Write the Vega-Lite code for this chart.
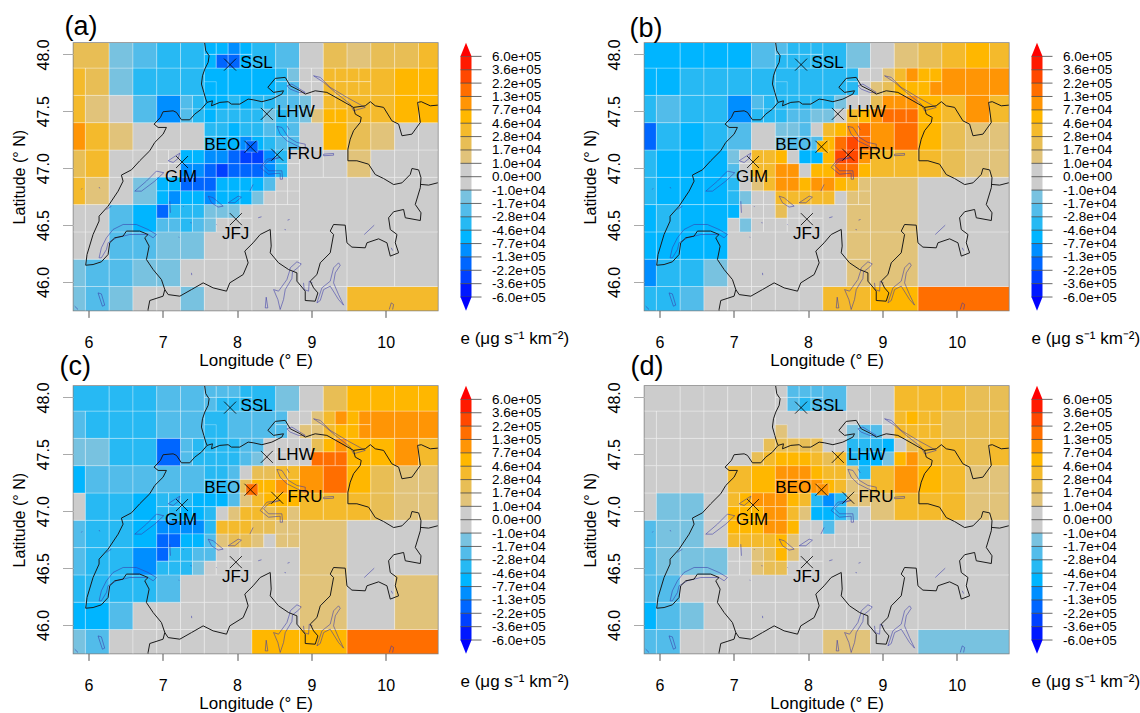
{
"$schema":"https://vega.github.io/schema/vega-lite/v6.json",
"padding":{"left":10.5,"top":12,"right":0,"bottom":0},
"background":"white",
"config":{"font":"Liberation Sans","view":{"stroke":null},"title":{"font":"Liberation Sans"}},
"datasets":{
"cells":[
{"lon":5.64,"lon2":5.96,"lat":45.72,"lat2":45.96,"a":-1,"b":-3,"c":-1,"d":-2},
{"lon":5.96,"lon2":6.28,"lat":45.72,"lat2":45.96,"a":-2,"b":-3,"c":-2,"d":-2},
{"lon":6.28,"lon2":6.6,"lat":45.72,"lat2":45.96,"a":-1,"b":-2,"c":0,"d":0},
{"lon":6.6,"lon2":6.92,"lat":45.72,"lat2":45.96,"a":0,"b":0,"c":0,"d":0},
{"lon":6.92,"lon2":7.24,"lat":45.72,"lat2":45.96,"a":0,"b":0,"c":0,"d":0},
{"lon":7.24,"lon2":7.56,"lat":45.72,"lat2":45.96,"a":-1,"b":0,"c":0,"d":0},
{"lon":7.56,"lon2":7.88,"lat":45.72,"lat2":45.96,"a":0,"b":0,"c":0,"d":0},
{"lon":7.88,"lon2":8.2,"lat":45.72,"lat2":45.96,"a":0,"b":0,"c":0,"d":0},
{"lon":8.2,"lon2":8.84,"lat":45.72,"lat2":45.96,"a":0,"b":3,"c":4,"d":1},
{"lon":8.84,"lon2":9.48,"lat":45.72,"lat2":45.96,"a":0,"b":4,"c":4,"d":0},
{"lon":9.48,"lon2":10.76,"lat":45.72,"lat2":45.96,"a":3,"b":6,"c":6,"d":-1},
{"lon":5.64,"lon2":5.96,"lat":45.96,"lat2":46.2,"a":-1,"b":-5,"c":-4,"d":-4},
{"lon":5.96,"lon2":6.28,"lat":45.96,"lat2":46.2,"a":-2,"b":-3,"c":-4,"d":-2},
{"lon":6.28,"lon2":6.6,"lat":45.96,"lat2":46.2,"a":-2,"b":-3,"c":-2,"d":-1},
{"lon":6.6,"lon2":6.92,"lat":45.96,"lat2":46.2,"a":-1,"b":-1,"c":0,"d":0},
{"lon":6.92,"lon2":7.24,"lat":45.96,"lat2":46.2,"a":-1,"b":0,"c":0,"d":0},
{"lon":7.24,"lon2":7.56,"lat":45.96,"lat2":46.2,"a":0,"b":0,"c":0,"d":0},
{"lon":7.56,"lon2":7.88,"lat":45.96,"lat2":46.2,"a":0,"b":0,"c":0,"d":0},
{"lon":7.88,"lon2":8.2,"lat":45.96,"lat2":46.2,"a":0,"b":0,"c":0,"d":0},
{"lon":8.2,"lon2":8.52,"lat":45.96,"lat2":46.2,"a":0,"b":0,"c":0,"d":0},
{"lon":8.52,"lon2":8.84,"lat":45.96,"lat2":46.2,"a":0,"b":1,"c":0,"d":0},
{"lon":5.64,"lon2":5.96,"lat":46.2,"lat2":46.44,"a":0,"b":-4,"c":-3,"d":-2},
{"lon":5.96,"lon2":6.28,"lat":46.2,"lat2":46.44,"a":0,"b":-4,"c":-3,"d":-2},
{"lon":6.28,"lon2":6.6,"lat":46.2,"lat2":46.44,"a":-2,"b":-4,"c":-3,"d":0},
{"lon":6.6,"lon2":6.92,"lat":46.2,"lat2":46.44,"a":-2,"b":-4,"c":-3,"d":0},
{"lon":6.92,"lon2":7.24,"lat":46.2,"lat2":46.44,"a":-1,"b":0,"c":-2,"d":0},
{"lon":7.24,"lon2":7.56,"lat":46.2,"lat2":46.44,"a":-1,"b":0,"c":0,"d":0},
{"lon":7.56,"lon2":7.88,"lat":46.2,"lat2":46.44,"a":0,"b":0,"c":0,"d":0},
{"lon":7.88,"lon2":8.2,"lat":46.2,"lat2":46.44,"a":0,"b":0,"c":0,"d":0},
{"lon":8.2,"lon2":8.52,"lat":46.2,"lat2":46.44,"a":0,"b":0,"c":0,"d":0},
{"lon":8.52,"lon2":8.84,"lat":46.2,"lat2":46.44,"a":0,"b":1,"c":0,"d":0},
{"lon":8.84,"lon2":9.48,"lat":45.96,"lat2":46.44,"a":0,"b":1,"c":1,"d":0},
{"lon":9.48,"lon2":10.12,"lat":45.96,"lat2":46.44,"a":0,"b":0,"c":0,"d":0},
{"lon":10.12,"lon2":10.76,"lat":45.96,"lat2":46.44,"a":0,"b":0,"c":1,"d":0},
{"lon":8.84,"lon2":9.48,"lat":46.44,"lat2":46.92,"a":0,"b":1,"c":1,"d":0},
{"lon":9.48,"lon2":10.12,"lat":46.44,"lat2":46.92,"a":0,"b":0,"c":0,"d":0},
{"lon":10.12,"lon2":10.76,"lat":46.44,"lat2":46.92,"a":0,"b":0,"c":0,"d":0},
{"lon":5.64,"lon2":5.96,"lat":46.44,"lat2":46.68,"a":0,"b":-4,"c":-2,"d":-2},
{"lon":5.96,"lon2":6.28,"lat":46.44,"lat2":46.68,"a":0,"b":-3,"c":-3,"d":-1},
{"lon":6.28,"lon2":6.6,"lat":46.44,"lat2":46.68,"a":-2,"b":-4,"c":-3,"d":-1},
{"lon":6.6,"lon2":6.92,"lat":46.44,"lat2":46.68,"a":-4,"b":-4,"c":-5,"d":-1},
{"lon":8.2,"lon2":8.52,"lat":46.44,"lat2":46.68,"a":0,"b":0,"c":0,"d":0},
{"lon":8.52,"lon2":8.84,"lat":46.44,"lat2":46.68,"a":0,"b":1,"c":0,"d":0},
{"lon":5.64,"lon2":5.96,"lat":46.68,"lat2":46.92,"a":3,"b":-3,"c":-2,"d":-2},
{"lon":5.96,"lon2":6.28,"lat":46.68,"lat2":46.92,"a":1,"b":-4,"c":-3,"d":-1},
{"lon":6.28,"lon2":6.6,"lat":46.68,"lat2":46.92,"a":0,"b":-4,"c":-3,"d":-1},
{"lon":6.6,"lon2":6.92,"lat":46.68,"lat2":46.92,"a":-1,"b":-4,"c":-4,"d":0},
{"lon":5.64,"lon2":5.96,"lat":46.92,"lat2":47.16,"a":2,"b":-3,"c":0,"d":0},
{"lon":5.96,"lon2":6.28,"lat":46.92,"lat2":47.16,"a":3,"b":-4,"c":-3,"d":-1},
{"lon":6.28,"lon2":6.6,"lat":46.92,"lat2":47.16,"a":0,"b":-4,"c":-3,"d":-1},
{"lon":6.6,"lon2":6.92,"lat":46.92,"lat2":47.16,"a":0,"b":-4,"c":-4,"d":0},
{"lon":8.84,"lon2":9.16,"lat":46.92,"lat2":47.16,"a":0,"b":3,"c":3,"d":1},
{"lon":9.16,"lon2":9.48,"lat":46.92,"lat2":47.16,"a":0,"b":3,"c":3,"d":3},
{"lon":9.48,"lon2":9.8,"lat":46.92,"lat2":47.16,"a":1,"b":3,"c":3,"d":3},
{"lon":9.8,"lon2":10.12,"lat":46.92,"lat2":47.16,"a":0,"b":2,"c":2,"d":3},
{"lon":10.12,"lon2":10.44,"lat":46.92,"lat2":47.16,"a":0,"b":1,"c":1,"d":1},
{"lon":10.44,"lon2":10.76,"lat":46.92,"lat2":47.16,"a":0,"b":1,"c":1,"d":1},
{"lon":5.64,"lon2":5.96,"lat":47.16,"lat2":47.4,"a":5,"b":-6,"c":-4,"d":0},
{"lon":5.96,"lon2":6.28,"lat":47.16,"lat2":47.4,"a":3,"b":-3,"c":-2,"d":0},
{"lon":6.28,"lon2":6.6,"lat":47.16,"lat2":47.4,"a":1,"b":-4,"c":-2,"d":0},
{"lon":6.6,"lon2":6.92,"lat":47.16,"lat2":47.4,"a":0,"b":-3,"c":-2,"d":0},
{"lon":6.92,"lon2":7.24,"lat":47.16,"lat2":47.4,"a":0,"b":-2,"c":-2,"d":3},
{"lon":7.24,"lon2":7.56,"lat":47.16,"lat2":47.4,"a":0,"b":0,"c":-2,"d":4},
{"lon":8.84,"lon2":9.16,"lat":47.16,"lat2":47.4,"a":0,"b":5,"c":5,"d":3},
{"lon":9.16,"lon2":9.48,"lat":47.16,"lat2":47.4,"a":4,"b":6,"c":6,"d":5},
{"lon":9.48,"lon2":9.8,"lat":47.16,"lat2":47.4,"a":2,"b":4,"c":4,"d":4},
{"lon":9.8,"lon2":10.12,"lat":47.16,"lat2":47.4,"a":1,"b":2,"c":2,"d":3},
{"lon":10.12,"lon2":10.44,"lat":47.16,"lat2":47.4,"a":0,"b":1,"c":1,"d":1},
{"lon":10.44,"lon2":10.76,"lat":47.16,"lat2":47.4,"a":0,"b":1,"c":1,"d":1},
{"lon":5.64,"lon2":5.96,"lat":47.4,"lat2":47.64,"a":3,"b":-3,"c":-1,"d":0},
{"lon":5.96,"lon2":6.28,"lat":47.4,"lat2":47.64,"a":1,"b":-2,"c":-1,"d":0},
{"lon":6.28,"lon2":6.6,"lat":47.4,"lat2":47.64,"a":0,"b":-3,"c":-3,"d":0},
{"lon":6.6,"lon2":6.92,"lat":47.4,"lat2":47.64,"a":-2,"b":-3,"c":-3,"d":0},
{"lon":6.92,"lon2":7.24,"lat":47.4,"lat2":47.64,"a":-5,"b":-5,"c":-6,"d":0},
{"lon":7.24,"lon2":7.4,"lat":47.52,"lat2":47.64,"a":-2,"b":-2,"c":-2,"d":0},
{"lon":7.4,"lon2":7.56,"lat":47.52,"lat2":47.64,"a":-3,"b":-3,"c":-3,"d":2},
{"lon":7.24,"lon2":7.4,"lat":47.4,"lat2":47.52,"a":-2,"b":-3,"c":-2,"d":2},
{"lon":7.4,"lon2":7.56,"lat":47.4,"lat2":47.52,"a":-3,"b":-3,"c":-3,"d":3},
{"lon":8.84,"lon2":9.0,"lat":47.52,"lat2":47.64,"a":-1,"b":2,"c":0,"d":-3},
{"lon":9.0,"lon2":9.16,"lat":47.52,"lat2":47.64,"a":0,"b":5,"c":2,"d":-4},
{"lon":8.84,"lon2":9.0,"lat":47.4,"lat2":47.52,"a":-1,"b":5,"c":0,"d":-4},
{"lon":9.0,"lon2":9.16,"lat":47.4,"lat2":47.52,"a":1,"b":6,"c":6,"d":-1},
{"lon":9.16,"lon2":9.32,"lat":47.52,"lat2":47.64,"a":3,"b":5,"c":4,"d":0},
{"lon":9.32,"lon2":9.48,"lat":47.52,"lat2":47.64,"a":3,"b":5,"c":5,"d":2},
{"lon":9.16,"lon2":9.32,"lat":47.4,"lat2":47.52,"a":4,"b":6,"c":6,"d":4},
{"lon":9.32,"lon2":9.48,"lat":47.4,"lat2":47.52,"a":4,"b":6,"c":6,"d":5},
{"lon":9.48,"lon2":9.8,"lat":47.4,"lat2":47.64,"a":3,"b":4,"c":4,"d":3},
{"lon":9.8,"lon2":10.12,"lat":47.4,"lat2":47.64,"a":3,"b":3,"c":4,"d":3},
{"lon":10.12,"lon2":10.44,"lat":47.4,"lat2":47.64,"a":4,"b":5,"c":5,"d":2},
{"lon":10.44,"lon2":10.76,"lat":47.4,"lat2":47.64,"a":4,"b":3,"c":3,"d":3},
{"lon":5.64,"lon2":5.96,"lat":47.64,"lat2":47.88,"a":3,"b":-4,"c":-2,"d":0},
{"lon":5.96,"lon2":6.28,"lat":47.64,"lat2":47.88,"a":2,"b":-4,"c":-3,"d":0},
{"lon":6.28,"lon2":6.6,"lat":47.64,"lat2":47.88,"a":-1,"b":-3,"c":-3,"d":0},
{"lon":6.6,"lon2":6.92,"lat":47.64,"lat2":47.88,"a":-3,"b":-3,"c":-3,"d":0},
{"lon":6.92,"lon2":7.24,"lat":47.64,"lat2":47.88,"a":-3,"b":-3,"c":-2,"d":0},
{"lon":7.24,"lon2":7.56,"lat":47.64,"lat2":47.88,"a":-3,"b":-3,"c":-2,"d":0},
{"lon":7.56,"lon2":7.88,"lat":47.64,"lat2":47.88,"a":-4,"b":-3,"c":-3,"d":0},
{"lon":7.56,"lon2":7.72,"lat":47.64,"lat2":47.76,"a":-4,"b":-3,"c":-3,"d":1},
{"lon":7.88,"lon2":8.2,"lat":47.64,"lat2":47.88,"a":-4,"b":-3,"c":-2,"d":0},
{"lon":8.2,"lon2":8.52,"lat":47.64,"lat2":47.88,"a":-4,"b":-3,"c":-2,"d":0},
{"lon":8.52,"lon2":8.68,"lat":47.76,"lat2":47.88,"a":-3,"b":-3,"c":-2,"d":0},
{"lon":8.68,"lon2":8.84,"lat":47.76,"lat2":47.88,"a":-1,"b":0,"c":0,"d":0},
{"lon":8.52,"lon2":8.68,"lat":47.64,"lat2":47.76,"a":-3,"b":-3,"c":-2,"d":-1},
{"lon":8.68,"lon2":8.84,"lat":47.64,"lat2":47.76,"a":-2,"b":0,"c":0,"d":-2},
{"lon":8.84,"lon2":9.0,"lat":47.76,"lat2":47.88,"a":0,"b":0,"c":0,"d":0},
{"lon":9.0,"lon2":9.16,"lat":47.76,"lat2":47.88,"a":0,"b":1,"c":1,"d":0},
{"lon":8.84,"lon2":9.0,"lat":47.64,"lat2":47.76,"a":0,"b":1,"c":1,"d":-2},
{"lon":9.0,"lon2":9.16,"lat":47.64,"lat2":47.76,"a":0,"b":2,"c":1,"d":0},
{"lon":9.16,"lon2":9.32,"lat":47.76,"lat2":47.88,"a":3,"b":3,"c":3,"d":3},
{"lon":9.32,"lon2":9.48,"lat":47.76,"lat2":47.88,"a":3,"b":5,"c":5,"d":4},
{"lon":9.16,"lon2":9.32,"lat":47.64,"lat2":47.76,"a":3,"b":4,"c":3,"d":3},
{"lon":9.32,"lon2":9.48,"lat":47.64,"lat2":47.76,"a":3,"b":4,"c":4,"d":3},
{"lon":9.48,"lon2":9.64,"lat":47.76,"lat2":47.88,"a":3,"b":4,"c":4,"d":3},
{"lon":9.64,"lon2":9.8,"lat":47.76,"lat2":47.88,"a":3,"b":4,"c":5,"d":3},
{"lon":9.48,"lon2":9.64,"lat":47.64,"lat2":47.76,"a":3,"b":4,"c":4,"d":3},
{"lon":9.64,"lon2":9.8,"lat":47.64,"lat2":47.76,"a":3,"b":5,"c":5,"d":3},
{"lon":9.8,"lon2":10.12,"lat":47.64,"lat2":47.88,"a":3,"b":5,"c":5,"d":2},
{"lon":10.12,"lon2":10.44,"lat":47.64,"lat2":47.88,"a":4,"b":5,"c":5,"d":2},
{"lon":10.44,"lon2":10.76,"lat":47.64,"lat2":47.88,"a":4,"b":5,"c":5,"d":2},
{"lon":5.64,"lon2":6.28,"lat":47.88,"lat2":48.12,"a":2,"b":-4,"c":-3,"d":0},
{"lon":6.28,"lon2":6.6,"lat":47.88,"lat2":48.12,"a":-1,"b":-4,"c":-3,"d":0},
{"lon":6.6,"lon2":6.92,"lat":47.88,"lat2":48.12,"a":-2,"b":-4,"c":-3,"d":0},
{"lon":6.92,"lon2":7.24,"lat":47.88,"lat2":48.12,"a":-3,"b":-4,"c":-2,"d":0},
{"lon":7.24,"lon2":7.56,"lat":47.88,"lat2":48.12,"a":-3,"b":-2,"c":-2,"d":0},
{"lon":7.56,"lon2":7.72,"lat":48.0,"lat2":48.12,"a":-4,"b":-2,"c":-2,"d":0},
{"lon":7.72,"lon2":7.88,"lat":48.0,"lat2":48.12,"a":-4,"b":-3,"c":-2,"d":-2},
{"lon":7.88,"lon2":8.04,"lat":48.0,"lat2":48.12,"a":-5,"b":-3,"c":-2,"d":-2},
{"lon":8.04,"lon2":8.2,"lat":48.0,"lat2":48.12,"a":-4,"b":-3,"c":-3,"d":-2},
{"lon":7.56,"lon2":7.72,"lat":47.88,"lat2":48.0,"a":-4,"b":-3,"c":-2,"d":0},
{"lon":7.72,"lon2":7.88,"lat":47.88,"lat2":48.0,"a":-6,"b":-3,"c":-3,"d":-2},
{"lon":7.88,"lon2":8.04,"lat":47.88,"lat2":48.0,"a":-6,"b":-3,"c":-3,"d":-3},
{"lon":8.04,"lon2":8.2,"lat":47.88,"lat2":48.0,"a":-4,"b":-3,"c":-3,"d":-2},
{"lon":8.2,"lon2":8.52,"lat":47.88,"lat2":48.12,"a":-3,"b":-3,"c":-3,"d":-2},
{"lon":8.52,"lon2":8.84,"lat":47.88,"lat2":48.12,"a":-2,"b":-1,"c":-1,"d":0},
{"lon":8.84,"lon2":9.16,"lat":47.88,"lat2":48.12,"a":0,"b":0,"c":0,"d":0},
{"lon":9.16,"lon2":9.48,"lat":47.88,"lat2":48.12,"a":2,"b":1,"c":2,"d":3},
{"lon":9.48,"lon2":9.8,"lat":47.88,"lat2":48.12,"a":1,"b":2,"c":4,"d":3},
{"lon":9.8,"lon2":10.12,"lat":47.88,"lat2":48.12,"a":2,"b":3,"c":4,"d":3},
{"lon":10.12,"lon2":10.44,"lat":47.88,"lat2":48.12,"a":2,"b":4,"c":4,"d":2},
{"lon":10.44,"lon2":10.76,"lat":47.88,"lat2":48.12,"a":3,"b":3,"c":4,"d":2},
{"lon":6.92,"lon2":7.08,"lat":47.04,"lat2":47.16,"a":0,"b":-1,"c":-3,"d":3},
{"lon":7.08,"lon2":7.24,"lat":47.04,"lat2":47.16,"a":0,"b":0,"c":-3,"d":4},
{"lon":7.24,"lon2":7.4,"lat":47.04,"lat2":47.16,"a":-4,"b":3,"c":-3,"d":5},
{"lon":7.4,"lon2":7.56,"lat":47.04,"lat2":47.16,"a":-4,"b":3,"c":-4,"d":5},
{"lon":6.92,"lon2":7.08,"lat":46.92,"lat2":47.04,"a":0,"b":-2,"c":-3,"d":4},
{"lon":7.08,"lon2":7.24,"lat":46.92,"lat2":47.04,"a":0,"b":0,"c":-3,"d":4},
{"lon":7.24,"lon2":7.4,"lat":46.92,"lat2":47.04,"a":-5,"b":3,"c":-4,"d":4},
{"lon":7.4,"lon2":7.56,"lat":46.92,"lat2":47.04,"a":-5,"b":3,"c":-4,"d":5},
{"lon":6.92,"lon2":7.08,"lat":46.8,"lat2":46.92,"a":-4,"b":-3,"c":-5,"d":4},
{"lon":7.08,"lon2":7.24,"lat":46.8,"lat2":46.92,"a":-4,"b":0,"c":-5,"d":4},
{"lon":7.24,"lon2":7.4,"lat":46.8,"lat2":46.92,"a":-6,"b":1,"c":-5,"d":4},
{"lon":7.4,"lon2":7.56,"lat":46.8,"lat2":46.92,"a":-6,"b":3,"c":-5,"d":5},
{"lon":6.92,"lon2":7.08,"lat":46.68,"lat2":46.8,"a":-4,"b":-3,"c":-6,"d":3},
{"lon":7.08,"lon2":7.24,"lat":46.68,"lat2":46.8,"a":-5,"b":-1,"c":-6,"d":3},
{"lon":7.24,"lon2":7.4,"lat":46.68,"lat2":46.8,"a":-4,"b":0,"c":-4,"d":3},
{"lon":7.4,"lon2":7.56,"lat":46.68,"lat2":46.8,"a":-4,"b":0,"c":-4,"d":3},
{"lon":6.92,"lon2":7.08,"lat":46.56,"lat2":46.68,"a":-6,"b":-4,"c":-6,"d":0},
{"lon":7.08,"lon2":7.24,"lat":46.56,"lat2":46.68,"a":-3,"b":0,"c":-3,"d":0},
{"lon":7.24,"lon2":7.4,"lat":46.56,"lat2":46.68,"a":-3,"b":0,"c":-3,"d":1},
{"lon":7.4,"lon2":7.56,"lat":46.56,"lat2":46.68,"a":-3,"b":0,"c":-2,"d":2},
{"lon":6.92,"lon2":7.08,"lat":46.44,"lat2":46.56,"a":-2,"b":0,"c":-3,"d":0},
{"lon":7.08,"lon2":7.24,"lat":46.44,"lat2":46.56,"a":-2,"b":-1,"c":-3,"d":0},
{"lon":7.24,"lon2":7.4,"lat":46.44,"lat2":46.56,"a":-3,"b":0,"c":-3,"d":1},
{"lon":7.4,"lon2":7.56,"lat":46.44,"lat2":46.56,"a":-2,"b":0,"c":-1,"d":2},
{"lon":7.56,"lon2":7.72,"lat":46.56,"lat2":46.68,"a":-1,"b":2,"c":-2,"d":4},
{"lon":7.72,"lon2":7.88,"lat":46.56,"lat2":46.68,"a":-1,"b":0,"c":0,"d":1},
{"lon":7.88,"lon2":8.04,"lat":46.56,"lat2":46.68,"a":-1,"b":0,"c":0,"d":0},
{"lon":8.04,"lon2":8.2,"lat":46.56,"lat2":46.68,"a":0,"b":0,"c":0,"d":0},
{"lon":7.56,"lon2":7.72,"lat":46.44,"lat2":46.56,"a":-1,"b":0,"c":0,"d":2},
{"lon":7.72,"lon2":7.88,"lat":46.44,"lat2":46.56,"a":0,"b":0,"c":0,"d":0},
{"lon":7.88,"lon2":8.04,"lat":46.44,"lat2":46.56,"a":0,"b":0,"c":0,"d":0},
{"lon":8.04,"lon2":8.2,"lat":46.44,"lat2":46.56,"a":0,"b":0,"c":0,"d":0},
{"lon":7.56,"lon2":7.72,"lat":46.68,"lat2":46.8,"a":-5,"b":3,"c":-2,"d":4},
{"lon":7.72,"lon2":7.88,"lat":46.68,"lat2":46.8,"a":-4,"b":3,"c":1,"d":1},
{"lon":7.88,"lon2":8.04,"lat":46.68,"lat2":46.8,"a":-4,"b":3,"c":2,"d":0},
{"lon":8.04,"lon2":8.2,"lat":46.68,"lat2":46.8,"a":-4,"b":3,"c":2,"d":0},
{"lon":8.2,"lon2":8.36,"lat":46.68,"lat2":46.8,"a":-1,"b":3,"c":1,"d":0},
{"lon":8.36,"lon2":8.52,"lat":46.68,"lat2":46.8,"a":0,"b":0,"c":0,"d":0},
{"lon":8.52,"lon2":8.68,"lat":46.68,"lat2":46.8,"a":0,"b":1,"c":1,"d":0},
{"lon":8.68,"lon2":8.84,"lat":46.68,"lat2":46.8,"a":0,"b":1,"c":1,"d":0},
{"lon":7.56,"lon2":7.72,"lat":46.8,"lat2":46.92,"a":-6,"b":5,"c":-3,"d":5},
{"lon":7.72,"lon2":7.88,"lat":46.8,"lat2":46.92,"a":-4,"b":5,"c":3,"d":4},
{"lon":7.88,"lon2":8.04,"lat":46.8,"lat2":46.92,"a":-4,"b":4,"c":3,"d":0},
{"lon":8.04,"lon2":8.2,"lat":46.8,"lat2":46.92,"a":-4,"b":5,"c":3,"d":0},
{"lon":8.2,"lon2":8.36,"lat":46.8,"lat2":46.92,"a":-4,"b":5,"c":2,"d":-2},
{"lon":8.36,"lon2":8.52,"lat":46.8,"lat2":46.92,"a":-2,"b":4,"c":2,"d":0},
{"lon":8.52,"lon2":8.68,"lat":46.8,"lat2":46.92,"a":0,"b":3,"c":1,"d":0},
{"lon":8.68,"lon2":8.84,"lat":46.8,"lat2":46.92,"a":0,"b":1,"c":1,"d":0},
{"lon":7.56,"lon2":7.72,"lat":46.92,"lat2":47.04,"a":-6,"b":5,"c":-3,"d":5},
{"lon":7.72,"lon2":7.88,"lat":46.92,"lat2":47.04,"a":-7,"b":5,"c":0,"d":3},
{"lon":7.88,"lon2":8.04,"lat":46.92,"lat2":47.04,"a":-6,"b":0,"c":1,"d":1},
{"lon":8.04,"lon2":8.2,"lat":46.92,"lat2":47.04,"a":-6,"b":4,"c":3,"d":-4},
{"lon":8.2,"lon2":8.36,"lat":46.92,"lat2":47.04,"a":-6,"b":4,"c":3,"d":-4},
{"lon":8.36,"lon2":8.52,"lat":46.92,"lat2":47.04,"a":-5,"b":6,"c":2,"d":-3},
{"lon":8.52,"lon2":8.68,"lat":46.92,"lat2":47.04,"a":-3,"b":6,"c":3,"d":-1},
{"lon":8.68,"lon2":8.84,"lat":46.92,"lat2":47.04,"a":0,"b":4,"c":1,"d":0},
{"lon":7.56,"lon2":7.72,"lat":47.04,"lat2":47.16,"a":-5,"b":4,"c":-4,"d":5},
{"lon":7.72,"lon2":7.88,"lat":47.04,"lat2":47.16,"a":-5,"b":0,"c":-4,"d":4},
{"lon":7.88,"lon2":8.04,"lat":47.04,"lat2":47.16,"a":-6,"b":-4,"c":-2,"d":3},
{"lon":8.04,"lon2":8.2,"lat":47.04,"lat2":47.16,"a":-7,"b":-4,"c":1,"d":-3},
{"lon":8.2,"lon2":8.36,"lat":47.04,"lat2":47.16,"a":-7,"b":4,"c":3,"d":-5},
{"lon":8.36,"lon2":8.52,"lat":47.04,"lat2":47.16,"a":-5,"b":7,"c":4,"d":-3},
{"lon":8.52,"lon2":8.68,"lat":47.04,"lat2":47.16,"a":-3,"b":7,"c":4,"d":1},
{"lon":8.68,"lon2":8.84,"lat":47.04,"lat2":47.16,"a":0,"b":5,"c":4,"d":1},
{"lon":7.56,"lon2":7.72,"lat":47.16,"lat2":47.28,"a":-3,"b":-1,"c":-3,"d":5},
{"lon":7.72,"lon2":7.88,"lat":47.16,"lat2":47.28,"a":-4,"b":-2,"c":-3,"d":5},
{"lon":7.88,"lon2":8.04,"lat":47.16,"lat2":47.28,"a":-4,"b":-2,"c":-2,"d":5},
{"lon":8.04,"lon2":8.2,"lat":47.16,"lat2":47.28,"a":-5,"b":-2,"c":2,"d":5},
{"lon":8.2,"lon2":8.36,"lat":47.16,"lat2":47.28,"a":-4,"b":4,"c":4,"d":4},
{"lon":8.36,"lon2":8.52,"lat":47.16,"lat2":47.28,"a":-3,"b":6,"c":4,"d":3},
{"lon":8.52,"lon2":8.68,"lat":47.16,"lat2":47.28,"a":-2,"b":7,"c":5,"d":1},
{"lon":8.68,"lon2":8.84,"lat":47.16,"lat2":47.28,"a":-2,"b":6,"c":4,"d":1},
{"lon":7.56,"lon2":7.72,"lat":47.28,"lat2":47.4,"a":-3,"b":-1,"c":-3,"d":5},
{"lon":7.72,"lon2":7.88,"lat":47.28,"lat2":47.4,"a":-3,"b":-1,"c":-3,"d":5},
{"lon":7.88,"lon2":8.04,"lat":47.28,"lat2":47.4,"a":-4,"b":-2,"c":-2,"d":5},
{"lon":8.04,"lon2":8.2,"lat":47.28,"lat2":47.4,"a":-3,"b":0,"c":0,"d":4},
{"lon":8.2,"lon2":8.36,"lat":47.28,"lat2":47.4,"a":-3,"b":3,"c":2,"d":3},
{"lon":8.36,"lon2":8.52,"lat":47.28,"lat2":47.4,"a":-2,"b":4,"c":2,"d":3},
{"lon":8.52,"lon2":8.68,"lat":47.28,"lat2":47.4,"a":-3,"b":5,"c":3,"d":1},
{"lon":8.68,"lon2":8.84,"lat":47.28,"lat2":47.4,"a":-2,"b":6,"c":3,"d":-3},
{"lon":7.56,"lon2":7.72,"lat":47.4,"lat2":47.52,"a":-4,"b":-3,"c":-3,"d":4},
{"lon":7.72,"lon2":7.88,"lat":47.4,"lat2":47.52,"a":-3,"b":-2,"c":-3,"d":4},
{"lon":7.88,"lon2":8.04,"lat":47.4,"lat2":47.52,"a":-3,"b":-2,"c":-3,"d":4},
{"lon":8.04,"lon2":8.2,"lat":47.4,"lat2":47.52,"a":-3,"b":-1,"c":-2,"d":3},
{"lon":8.2,"lon2":8.36,"lat":47.4,"lat2":47.52,"a":-3,"b":-1,"c":-1,"d":2},
{"lon":8.36,"lon2":8.52,"lat":47.4,"lat2":47.52,"a":-1,"b":0,"c":0,"d":3},
{"lon":8.52,"lon2":8.68,"lat":47.4,"lat2":47.52,"a":-3,"b":3,"c":0,"d":-3},
{"lon":8.68,"lon2":8.84,"lat":47.4,"lat2":47.52,"a":-2,"b":4,"c":0,"d":-4},
{"lon":7.56,"lon2":7.72,"lat":47.52,"lat2":47.64,"a":-4,"b":-3,"c":-3,"d":2},
{"lon":7.72,"lon2":7.88,"lat":47.52,"lat2":47.64,"a":-4,"b":-3,"c":-3,"d":2},
{"lon":7.88,"lon2":8.04,"lat":47.52,"lat2":47.64,"a":-3,"b":-3,"c":-3,"d":2},
{"lon":8.04,"lon2":8.2,"lat":47.52,"lat2":47.64,"a":-4,"b":-3,"c":-2,"d":2},
{"lon":8.2,"lon2":8.36,"lat":47.52,"lat2":47.64,"a":-3,"b":-3,"c":-2,"d":0},
{"lon":8.36,"lon2":8.52,"lat":47.52,"lat2":47.64,"a":-3,"b":-1,"c":0,"d":0},
{"lon":8.52,"lon2":8.68,"lat":47.52,"lat2":47.64,"a":-2,"b":0,"c":0,"d":-3},
{"lon":8.68,"lon2":8.84,"lat":47.52,"lat2":47.64,"a":-2,"b":0,"c":0,"d":-3},
{"lon":8.12,"lon2":8.28,"lat":47.14,"lat2":47.24,"a":-6,"b":4,"c":6,"d":5}
],
"border":[
{"id":"ch","lon":7.597,"lat":47.578},{"id":"ch","lon":7.521,"lat":47.519},{"id":"ch","lon":7.431,"lat":47.475},{"id":"ch","lon":7.364,"lat":47.425},{"id":"ch","lon":7.252,"lat":47.425},{"id":"ch","lon":7.185,"lat":47.49},{"id":"ch","lon":7.14,"lat":47.504},{"id":"ch","lon":7.005,"lat":47.496},{"id":"ch","lon":6.969,"lat":47.446},{"id":"ch","lon":6.884,"lat":47.387},{"id":"ch","lon":6.938,"lat":47.358},{"id":"ch","lon":7.05,"lat":47.358},{"id":"ch","lon":7.005,"lat":47.299},{"id":"ch","lon":6.893,"lat":47.226},{"id":"ch","lon":6.826,"lat":47.153},{"id":"ch","lon":6.691,"lat":47.065},{"id":"ch","lon":6.579,"lat":46.985},{"id":"ch","lon":6.444,"lat":46.939},{"id":"ch","lon":6.467,"lat":46.886},{"id":"ch","lon":6.4,"lat":46.798},{"id":"ch","lon":6.265,"lat":46.666},{"id":"ch","lon":6.144,"lat":46.578},{"id":"ch","lon":6.144,"lat":46.535},{"id":"ch","lon":6.063,"lat":46.417},{"id":"ch","lon":5.982,"lat":46.241},{"id":"ch","lon":5.964,"lat":46.147},{"id":"ch","lon":6.063,"lat":46.153},{"id":"ch","lon":6.175,"lat":46.177},{"id":"ch","lon":6.265,"lat":46.241},{"id":"ch","lon":6.287,"lat":46.344},{"id":"ch","lon":6.355,"lat":46.388},{"id":"ch","lon":6.467,"lat":46.403},{"id":"ch","lon":6.512,"lat":46.447},{"id":"ch","lon":6.691,"lat":46.447},{"id":"ch","lon":6.803,"lat":46.417},{"id":"ch","lon":6.758,"lat":46.388},{"id":"ch","lon":6.817,"lat":46.315},{"id":"ch","lon":6.781,"lat":46.197},{"id":"ch","lon":6.871,"lat":46.109},{"id":"ch","lon":6.983,"lat":46.021},{"id":"ch","lon":7.028,"lat":45.933},{"id":"ch","lon":7.073,"lat":45.889},{"id":"ch","lon":7.23,"lat":45.875},{"id":"ch","lon":7.387,"lat":45.933},{"id":"ch","lon":7.544,"lat":45.992},{"id":"ch","lon":7.678,"lat":45.948},{"id":"ch","lon":7.858,"lat":45.919},{"id":"ch","lon":7.902,"lat":45.992},{"id":"ch","lon":8.082,"lat":46.065},{"id":"ch","lon":8.149,"lat":46.168},{"id":"ch","lon":8.104,"lat":46.271},{"id":"ch","lon":8.216,"lat":46.344},{"id":"ch","lon":8.311,"lat":46.417},{"id":"ch","lon":8.446,"lat":46.461},{"id":"ch","lon":8.459,"lat":46.315},{"id":"ch","lon":8.446,"lat":46.256},{"id":"ch","lon":8.558,"lat":46.168},{"id":"ch","lon":8.693,"lat":46.109},{"id":"ch","lon":8.805,"lat":46.08},{"id":"ch","lon":8.805,"lat":46.007},{"id":"ch","lon":8.917,"lat":45.919},{"id":"ch","lon":8.917,"lat":45.837},{"id":"ch","lon":9.051,"lat":45.831},{"id":"ch","lon":9.087,"lat":45.904},{"id":"ch","lon":9.029,"lat":45.948},{"id":"ch","lon":8.984,"lat":46.007},{"id":"ch","lon":9.074,"lat":46.065},{"id":"ch","lon":9.119,"lat":46.168},{"id":"ch","lon":9.253,"lat":46.256},{"id":"ch","lon":9.298,"lat":46.417},{"id":"ch","lon":9.253,"lat":46.447},{"id":"ch","lon":9.298,"lat":46.505},{"id":"ch","lon":9.455,"lat":46.499},{"id":"ch","lon":9.478,"lat":46.344},{"id":"ch","lon":9.545,"lat":46.306},{"id":"ch","lon":9.724,"lat":46.3},{"id":"ch","lon":9.747,"lat":46.344},{"id":"ch","lon":9.904,"lat":46.379},{"id":"ch","lon":10.016,"lat":46.344},{"id":"ch","lon":10.061,"lat":46.227},{"id":"ch","lon":10.173,"lat":46.256},{"id":"ch","lon":10.128,"lat":46.344},{"id":"ch","lon":10.151,"lat":46.417},{"id":"ch","lon":10.061,"lat":46.461},{"id":"ch","lon":10.038,"lat":46.564},{"id":"ch","lon":10.106,"lat":46.617},{"id":"ch","lon":10.24,"lat":46.637},{"id":"ch","lon":10.263,"lat":46.564},{"id":"ch","lon":10.465,"lat":46.54},{"id":"ch","lon":10.474,"lat":46.608},{"id":"ch","lon":10.397,"lat":46.681},{"id":"ch","lon":10.465,"lat":46.828},{"id":"ch","lon":10.474,"lat":46.916},{"id":"ch","lon":10.442,"lat":46.985},{"id":"ch","lon":10.352,"lat":46.997},{"id":"ch","lon":10.33,"lat":46.945},{"id":"ch","lon":10.218,"lat":46.871},{"id":"ch","lon":10.106,"lat":46.856},{"id":"ch","lon":9.971,"lat":46.909},{"id":"ch","lon":9.859,"lat":46.944},{"id":"ch","lon":9.769,"lat":47.035},{"id":"ch","lon":9.612,"lat":47.065},{"id":"ch","lon":9.491,"lat":47.065},{"id":"ch","lon":9.491,"lat":47.167},{"id":"ch","lon":9.522,"lat":47.255},{"id":"ch","lon":9.567,"lat":47.329},{"id":"ch","lon":9.657,"lat":47.402},{"id":"ch","lon":9.67,"lat":47.446},{"id":"ch","lon":9.59,"lat":47.475},{"id":"ch","lon":9.567,"lat":47.534},{"id":"ch","lon":9.41,"lat":47.592},{"id":"ch","lon":9.208,"lat":47.666},{"id":"ch","lon":9.051,"lat":47.68},{"id":"ch","lon":8.917,"lat":47.651},{"id":"ch","lon":8.85,"lat":47.68},{"id":"ch","lon":8.715,"lat":47.724},{"id":"ch","lon":8.648,"lat":47.798},{"id":"ch","lon":8.513,"lat":47.789},{"id":"ch","lon":8.414,"lat":47.71},{"id":"ch","lon":8.491,"lat":47.666},{"id":"ch","lon":8.625,"lat":47.68},{"id":"ch","lon":8.603,"lat":47.651},{"id":"ch","lon":8.468,"lat":47.607},{"id":"ch","lon":8.334,"lat":47.584},{"id":"ch","lon":8.217,"lat":47.601},{"id":"ch","lon":8.149,"lat":47.607},{"id":"ch","lon":8.037,"lat":47.563},{"id":"ch","lon":7.925,"lat":47.563},{"id":"ch","lon":7.88,"lat":47.584},{"id":"ch","lon":7.768,"lat":47.578},{"id":"ch","lon":7.656,"lat":47.548},{"id":"ch","lon":7.669,"lat":47.592},{"id":"ch","lon":7.597,"lat":47.578},
{"id":"rhine","lon":7.56,"lat":48.12},{"id":"rhine","lon":7.566,"lat":48.091},{"id":"rhine","lon":7.579,"lat":48.032},{"id":"rhine","lon":7.624,"lat":47.988},{"id":"rhine","lon":7.611,"lat":47.93},{"id":"rhine","lon":7.566,"lat":47.871},{"id":"rhine","lon":7.535,"lat":47.812},{"id":"rhine","lon":7.521,"lat":47.739},{"id":"rhine","lon":7.553,"lat":47.666},{"id":"rhine","lon":7.579,"lat":47.607},{"id":"rhine","lon":7.597,"lat":47.578},
{"id":"fr","lon":7.028,"lat":45.933},{"id":"fr","lon":7.005,"lat":45.875},{"id":"fr","lon":6.826,"lat":45.837},{"id":"fr","lon":6.803,"lat":45.758},{"id":"fr","lon":6.803,"lat":45.71},
{"id":"at","lon":9.567,"lat":47.534},{"id":"at","lon":9.724,"lat":47.548},{"id":"at","lon":9.792,"lat":47.584},{"id":"at","lon":9.859,"lat":47.548},{"id":"at","lon":9.971,"lat":47.534},{"id":"at","lon":10.083,"lat":47.416},{"id":"at","lon":10.173,"lat":47.387},{"id":"at","lon":10.218,"lat":47.285},{"id":"at","lon":10.352,"lat":47.299},{"id":"at","lon":10.465,"lat":47.402},{"id":"at","lon":10.429,"lat":47.578},{"id":"at","lon":10.478,"lat":47.584},{"id":"at","lon":10.599,"lat":47.548},{"id":"at","lon":10.702,"lat":47.554},{"id":"at","lon":10.756,"lat":47.554},
{"id":"it","lon":10.474,"lat":46.857},{"id":"it","lon":10.577,"lat":46.851},{"id":"it","lon":10.702,"lat":46.872},{"id":"it","lon":10.756,"lat":46.872}
],
"lakes":[
{"id":"gen","lon":6.144,"lat":46.212},{"id":"gen","lon":6.175,"lat":46.3},{"id":"gen","lon":6.243,"lat":46.388},{"id":"gen","lon":6.332,"lat":46.461},{"id":"gen","lon":6.467,"lat":46.505},{"id":"gen","lon":6.646,"lat":46.505},{"id":"gen","lon":6.803,"lat":46.461},{"id":"gen","lon":6.915,"lat":46.417},{"id":"gen","lon":6.871,"lat":46.388},{"id":"gen","lon":6.803,"lat":46.417},{"id":"gen","lon":6.557,"lat":46.417},{"id":"gen","lon":6.377,"lat":46.388},{"id":"gen","lon":6.265,"lat":46.344},{"id":"gen","lon":6.243,"lat":46.285},{"id":"gen","lon":6.175,"lat":46.212},{"id":"gen","lon":6.144,"lat":46.212},
{"id":"neu","lon":6.624,"lat":46.798},{"id":"neu","lon":6.714,"lat":46.798},{"id":"neu","lon":6.893,"lat":46.886},{"id":"neu","lon":7.014,"lat":46.96},{"id":"neu","lon":6.915,"lat":46.974},{"id":"neu","lon":6.781,"lat":46.886},{"id":"neu","lon":6.624,"lat":46.798},
{"id":"bie","lon":7.073,"lat":47.065},{"id":"bie","lon":7.14,"lat":47.094},{"id":"bie","lon":7.23,"lat":47.132},{"id":"bie","lon":7.207,"lat":47.085},{"id":"bie","lon":7.14,"lat":47.05},{"id":"bie","lon":7.073,"lat":47.065},
{"id":"thu","lon":7.611,"lat":46.754},{"id":"thu","lon":7.678,"lat":46.74},{"id":"thu","lon":7.813,"lat":46.666},{"id":"thu","lon":7.745,"lat":46.658},{"id":"thu","lon":7.656,"lat":46.696},{"id":"thu","lon":7.611,"lat":46.754},
{"id":"bri","lon":7.88,"lat":46.696},{"id":"bri","lon":8.015,"lat":46.754},{"id":"bri","lon":8.059,"lat":46.745},{"id":"bri","lon":7.97,"lat":46.696},{"id":"bri","lon":7.88,"lat":46.696},
{"id":"s1","lon":7.095,"lat":46.71},{"id":"s1","lon":7.104,"lat":46.608},
{"id":"s2","lon":6.243,"lat":46.637},{"id":"s2","lon":6.31,"lat":46.666},
{"id":"s3","lon":6.144,"lat":46.834},{"id":"s3","lon":6.153,"lat":46.822},
{"id":"s4","lon":5.906,"lat":46.813},{"id":"s4","lon":5.915,"lat":46.822},
{"id":"s5","lon":8.172,"lat":46.798},{"id":"s5","lon":8.216,"lat":46.857},
{"id":"s6","lon":8.284,"lat":46.564},{"id":"s6","lon":8.329,"lat":46.573},
{"id":"s7","lon":8.679,"lat":46.543},{"id":"s7","lon":8.706,"lat":46.549},
{"id":"s8","lon":8.639,"lat":46.461},{"id":"s8","lon":8.657,"lat":46.458},
{"id":"s9","lon":9.711,"lat":46.417},{"id":"s9","lon":9.845,"lat":46.499},
{"id":"s10","lon":10.074,"lat":46.3},{"id":"s10","lon":10.092,"lat":46.276},
{"id":"s11","lon":7.387,"lat":46.08},{"id":"s11","lon":7.39,"lat":46.06},
{"id":"s12","lon":7.216,"lat":46.397},{"id":"s12","lon":7.22,"lat":46.39},
{"id":"s13","lon":7.274,"lat":46.666},{"id":"s13","lon":7.28,"lat":46.66},
{"id":"s14","lon":7.378,"lat":46.526},{"id":"s14","lon":7.382,"lat":46.515},
{"id":"s15","lon":7.723,"lat":46.505},{"id":"s15","lon":7.73,"lat":46.5},
{"id":"ann","lon":6.13,"lat":45.904},{"id":"ann","lon":6.175,"lat":45.895},{"id":"ann","lon":6.22,"lat":45.796},{"id":"ann","lon":6.189,"lat":45.787},{"id":"ann","lon":6.13,"lat":45.904},
{"id":"bou","lon":5.816,"lat":45.787},{"id":"bou","lon":5.861,"lat":45.758},
{"id":"mag","lon":8.715,"lat":46.124},{"id":"mag","lon":8.805,"lat":46.177},{"id":"mag","lon":8.863,"lat":46.159},{"id":"mag","lon":8.827,"lat":46.13},{"id":"mag","lon":8.746,"lat":46.089},{"id":"mag","lon":8.737,"lat":46.03},{"id":"mag","lon":8.648,"lat":45.933},{"id":"mag","lon":8.625,"lat":45.845},{"id":"mag","lon":8.58,"lat":45.758},{"id":"mag","lon":8.549,"lat":45.845},{"id":"mag","lon":8.491,"lat":45.933},{"id":"mag","lon":8.558,"lat":45.919},{"id":"mag","lon":8.67,"lat":46.021},{"id":"mag","lon":8.706,"lat":46.095},{"id":"mag","lon":8.715,"lat":46.124},
{"id":"com","lon":9.074,"lat":45.816},{"id":"com","lon":9.141,"lat":45.948},{"id":"com","lon":9.253,"lat":46.007},{"id":"com","lon":9.298,"lat":46.124},{"id":"com","lon":9.365,"lat":46.168},{"id":"com","lon":9.388,"lat":46.147},{"id":"com","lon":9.321,"lat":46.08},{"id":"com","lon":9.298,"lat":45.992},{"id":"com","lon":9.365,"lat":45.889},{"id":"com","lon":9.433,"lat":45.796},{"id":"com","lon":9.365,"lat":45.845},{"id":"com","lon":9.253,"lat":45.963},{"id":"com","lon":9.164,"lat":45.933},{"id":"com","lon":9.119,"lat":45.837},{"id":"com","lon":9.074,"lat":45.816},
{"id":"lug","lon":8.894,"lat":45.992},{"id":"lug","lon":8.903,"lat":45.933},{"id":"lug","lon":8.962,"lat":45.919},{"id":"lug","lon":8.971,"lat":46.007},{"id":"lug","lon":9.015,"lat":45.992},
{"id":"ort","lon":8.392,"lat":45.866},{"id":"ort","lon":8.414,"lat":45.772},{"id":"ort","lon":8.379,"lat":45.772},{"id":"ort","lon":8.392,"lat":45.866},
{"id":"ise","lon":10.047,"lat":45.758},{"id":"ise","lon":10.074,"lat":45.816},{"id":"ise","lon":10.106,"lat":45.802},{"id":"ise","lon":10.092,"lat":45.758},
{"id":"con","lon":9.029,"lat":47.812},{"id":"con","lon":9.119,"lat":47.798},{"id":"con","lon":9.253,"lat":47.71},{"id":"con","lon":9.478,"lat":47.622},{"id":"con","lon":9.724,"lat":47.534},{"id":"con","lon":9.567,"lat":47.504},{"id":"con","lon":9.522,"lat":47.563},{"id":"con","lon":9.321,"lat":47.666},{"id":"con","lon":9.164,"lat":47.754},{"id":"con","lon":9.029,"lat":47.812},
{"id":"unt","lon":8.67,"lat":47.724},{"id":"unt","lon":8.737,"lat":47.739},{"id":"unt","lon":8.917,"lat":47.666},{"id":"unt","lon":8.827,"lat":47.666},{"id":"unt","lon":8.715,"lat":47.695},{"id":"unt","lon":8.67,"lat":47.724},
{"id":"zur","lon":8.536,"lat":47.367},{"id":"zur","lon":8.603,"lat":47.358},{"id":"zur","lon":8.692,"lat":47.27},{"id":"zur","lon":8.805,"lat":47.226},{"id":"zur","lon":8.917,"lat":47.211},{"id":"zur","lon":8.917,"lat":47.167},{"id":"zur","lon":8.805,"lat":47.197},{"id":"zur","lon":8.67,"lat":47.241},{"id":"zur","lon":8.58,"lat":47.299},{"id":"zur","lon":8.536,"lat":47.367},
{"id":"zug","lon":8.67,"lat":47.373},{"id":"zug","lon":8.702,"lat":47.337},
{"id":"wal","lon":9.164,"lat":47.123},{"id":"wal","lon":9.298,"lat":47.129},{"id":"wal","lon":9.298,"lat":47.114},{"id":"wal","lon":9.164,"lat":47.109},{"id":"wal","lon":9.164,"lat":47.123},
{"id":"vie","lon":8.58,"lat":47.094},{"id":"vie","lon":8.423,"lat":47.065},{"id":"vie","lon":8.356,"lat":47.021},{"id":"vie","lon":8.423,"lat":46.977},{"id":"vie","lon":8.513,"lat":46.977},{"id":"vie","lon":8.603,"lat":46.977},{"id":"vie","lon":8.612,"lat":46.903},{"id":"vie","lon":8.58,"lat":46.903},{"id":"vie","lon":8.58,"lat":46.956},{"id":"vie","lon":8.423,"lat":46.947},{"id":"vie","lon":8.311,"lat":47.006},{"id":"vie","lon":8.401,"lat":47.079},{"id":"vie","lon":8.58,"lat":47.094}
],
"stations":[
{"name":"SSL","lon":7.906,"lat":47.91},
{"name":"LHW","lon":8.4,"lat":47.477},
{"name":"BEO","lon":8.18,"lat":47.188},
{"name":"FRU","lon":8.54,"lat":47.118},
{"name":"GIM","lon":7.26,"lat":47.054},
{"name":"JFJ","lon":7.984,"lat":46.552}
],
"labels":[
{"name":"SSL","lon":8.263,"lat":47.924},
{"name":"LHW","lon":8.79,"lat":47.492},
{"name":"BEO","lon":7.8,"lat":47.2},
{"name":"FRU","lon":8.913,"lat":47.127},
{"name":"GIM","lon":7.246,"lat":46.923},
{"name":"JFJ","lon":7.98,"lat":46.418}
],
"ticks":[{"t":"6.0e+05"},{"t":"3.6e+05"},{"t":"2.2e+05"},{"t":"1.3e+05"},{"t":"7.7e+04"},{"t":"4.6e+04"},{"t":"2.8e+04"},{"t":"1.7e+04"},{"t":"1.0e+04"},{"t":"0.0e+00"},{"t":"-1.0e+04"},{"t":"-1.7e+04"},{"t":"-2.8e+04"},{"t":"-4.6e+04"},{"t":"-7.7e+04"},{"t":"-1.3e+05"},{"t":"-2.2e+05"},{"t":"-3.6e+05"},{"t":"-6.0e+05"}],
"levels":[
{"hi":"6.0e+05","lo":"3.6e+05","level":8},
{"hi":"3.6e+05","lo":"2.2e+05","level":7},
{"hi":"2.2e+05","lo":"1.3e+05","level":6},
{"hi":"1.3e+05","lo":"7.7e+04","level":5},
{"hi":"7.7e+04","lo":"4.6e+04","level":4},
{"hi":"4.6e+04","lo":"2.8e+04","level":3},
{"hi":"2.8e+04","lo":"1.7e+04","level":2},
{"hi":"1.7e+04","lo":"1.0e+04","level":1},
{"hi":"1.0e+04","lo":"0.0e+00","level":0},
{"hi":"0.0e+00","lo":"-1.0e+04","level":0},
{"hi":"-1.0e+04","lo":"-1.7e+04","level":-1},
{"hi":"-1.7e+04","lo":"-2.8e+04","level":-2},
{"hi":"-2.8e+04","lo":"-4.6e+04","level":-3},
{"hi":"-4.6e+04","lo":"-7.7e+04","level":-4},
{"hi":"-7.7e+04","lo":"-1.3e+05","level":-5},
{"hi":"-1.3e+05","lo":"-2.2e+05","level":-6},
{"hi":"-2.2e+05","lo":"-3.6e+05","level":-7},
{"hi":"-3.6e+05","lo":"-6.0e+05","level":-8}
]
},
"bounds":"flush",
"align":"each",
"columns":4,
"spacing":{"row":75,"column":22},
"concat":[
{"width":364.3,"height":267.4,"view":{"stroke":"#808080","strokeWidth":1.5},"title":{"text":"(a)","anchor":"start","frame":"group","fontSize":27,"fontWeight":"normal","offset":-2,"dx":-9},
"encoding":{"x":{"field":"lon","type":"quantitative","title":"Longitude (° E)","scale":{"domain":[5.8,10.7],"nice":false,"zero":false},"axis":{"values":[6,7,8,9,10],"grid":false,"domain":false,"tickSize":7,"tickColor":"#555555","labelFontSize":16,"labelPadding":17,"labelColor":"#000000","titleFontSize":17,"titleFontWeight":"normal","titlePadding":2,"titleColor":"#000000"}},"y":{"field":"lat","type":"quantitative","title":"Latitude (° N)","scale":{"domain":[45.75,48.1],"nice":false,"zero":false},"axis":{"values":[46,46.5,47,47.5,48],"format":".1f","grid":false,"domain":false,"tickSize":11,"tickColor":"#aaaaaa","labelAngle":-90,"labelAlign":"center","labelBaseline":"middle","labelFontSize":16,"labelPadding":19,"labelColor":"#000000","titleFontSize":16,"titleFontWeight":"normal","titlePadding":8,"titleColor":"#000000"}}},
"layer":[
{"data":{"name":"cells"},"mark":{"type":"rect","clip":true,"stroke":"#ffffff","strokeWidth":0.6,"strokeOpacity":0.5},"encoding":{"x2":{"field":"lon2"},"y2":{"field":"lat2"},"color":{"field":"a","type":"quantitative","legend":null,"scale":{"type":"threshold","domain":[-7.5,-6.5,-5.5,-4.5,-3.5,-2.5,-1.5,-0.5,0.5,1.5,2.5,3.5,4.5,5.5,6.5,7.5],"range":["#0018FF","#0040FF","#0066FF","#008EFF","#00B5FF","#27B9F3","#52BCEA","#78C2E0","#CCCCCC","#E1C37A","#E8BE55","#F4BA2C","#FFB700","#FF9505","#FF6E00","#FF4800","#FF1A00"]}}}},
{"data":{"name":"lakes"},"mark":{"type":"line","clip":true,"stroke":"#3A3AA8","strokeWidth":0.7,"strokeOpacity":0.8},"encoding":{"detail":{"field":"id"},"order":{"value":null}}},
{"data":{"name":"border"},"mark":{"type":"line","clip":true,"stroke":"#1a1a1a","strokeWidth":1},"encoding":{"detail":{"field":"id"},"order":{"value":null}}},
{"data":{"name":"stations"},"mark":{"type":"point","shape":"M-1,-1L1,1M-1,1L1,-1","size":144,"stroke":"#000000","strokeWidth":0.8,"fill":null,"opacity":1}},
{"data":{"name":"labels"},"mark":{"type":"text","fontSize":17,"color":"#000000"},"encoding":{"text":{"field":"name"}}}
]},
{"width":161.5,"height":267.4,"title":{"text":"e (μg s⁻¹ km⁻²)","orient":"bottom","anchor":"start","frame":"group","fontSize":17,"fontWeight":"normal","offset":20},
"layer":[
{"data":{"name":"levels"},"mark":{"type":"rect"},"encoding":{"x":{"datum":0,"type":"quantitative","scale":{"domain":[0,161.5],"nice":false},"axis":null},"x2":{"datum":11},"y":{"field":"hi","type":"ordinal","title":null,"scale":{"type":"point","padding":1.08,"domain":["6.0e+05","3.6e+05","2.2e+05","1.3e+05","7.7e+04","4.6e+04","2.8e+04","1.7e+04","1.0e+04","0.0e+00","-1.0e+04","-1.7e+04","-2.8e+04","-4.6e+04","-7.7e+04","-1.3e+05","-2.2e+05","-3.6e+05","-6.0e+05"]},"axis":{"orient":"right","offset":-161.5,"domain":false,"ticks":false,"labelFontSize":13.5,"labelPadding":31,"labelColor":"#000000"}},"y2":{"field":"lo"},"color":{"field":"level","type":"quantitative","legend":null,"scale":{"type":"threshold","domain":[-7.5,-6.5,-5.5,-4.5,-3.5,-2.5,-1.5,-0.5,0.5,1.5,2.5,3.5,4.5,5.5,6.5,7.5],"range":["#0018FF","#0040FF","#0066FF","#008EFF","#00B5FF","#27B9F3","#52BCEA","#78C2E0","#CCCCCC","#E1C37A","#E8BE55","#F4BA2C","#FFB700","#FF9505","#FF6E00","#FF4800","#FF1A00"]}}}},
{"data":{"name":"ticks"},"mark":{"type":"point","shape":"M0,0L2,0","size":441,"stroke":"#444444","strokeWidth":0.8,"fill":null,"opacity":1},"encoding":{"x":{"datum":0},"y":{"field":"t","type":"ordinal"}}},
{"data":{"name":"ticks"},"mark":{"type":"point","filled":true,"shape":"M-1,0L1,0L0,-2.49Z","size":121,"color":"#FF0000","opacity":1},"transform":[{"filter":"datum.t==='6.0e+05'"}],"encoding":{"x":{"datum":5.5},"y":{"field":"t","type":"ordinal"}}},
{"data":{"name":"ticks"},"mark":{"type":"point","filled":true,"shape":"M-1,0L1,0L0,2.49Z","size":121,"color":"#0000FF","opacity":1},"transform":[{"filter":"datum.t==='-6.0e+05'"}],"encoding":{"x":{"datum":5.5},"y":{"field":"t","type":"ordinal"}}}
]},
{"width":364.3,"height":267.4,"view":{"stroke":"#808080","strokeWidth":1.5},"title":{"text":"(b)","anchor":"start","frame":"group","fontSize":27,"fontWeight":"normal","offset":-4,"dx":-15},
"encoding":{"x":{"field":"lon","type":"quantitative","title":"Longitude (° E)","scale":{"domain":[5.8,10.7],"nice":false,"zero":false},"axis":{"values":[6,7,8,9,10],"grid":false,"domain":false,"tickSize":7,"tickColor":"#555555","labelFontSize":16,"labelPadding":17,"labelColor":"#000000","titleFontSize":17,"titleFontWeight":"normal","titlePadding":2,"titleColor":"#000000"}},"y":{"field":"lat","type":"quantitative","title":"Latitude (° N)","scale":{"domain":[45.75,48.1],"nice":false,"zero":false},"axis":{"values":[46,46.5,47,47.5,48],"format":".1f","grid":false,"domain":false,"tickSize":11,"tickColor":"#aaaaaa","labelAngle":-90,"labelAlign":"center","labelBaseline":"middle","labelFontSize":16,"labelPadding":19,"labelColor":"#000000","titleFontSize":16,"titleFontWeight":"normal","titlePadding":8,"titleColor":"#000000"}}},
"layer":[
{"data":{"name":"cells"},"mark":{"type":"rect","clip":true,"stroke":"#ffffff","strokeWidth":0.6,"strokeOpacity":0.5},"encoding":{"x2":{"field":"lon2"},"y2":{"field":"lat2"},"color":{"field":"b","type":"quantitative","legend":null,"scale":{"type":"threshold","domain":[-7.5,-6.5,-5.5,-4.5,-3.5,-2.5,-1.5,-0.5,0.5,1.5,2.5,3.5,4.5,5.5,6.5,7.5],"range":["#0018FF","#0040FF","#0066FF","#008EFF","#00B5FF","#27B9F3","#52BCEA","#78C2E0","#CCCCCC","#E1C37A","#E8BE55","#F4BA2C","#FFB700","#FF9505","#FF6E00","#FF4800","#FF1A00"]}}}},
{"data":{"name":"lakes"},"mark":{"type":"line","clip":true,"stroke":"#3A3AA8","strokeWidth":0.7,"strokeOpacity":0.8},"encoding":{"detail":{"field":"id"},"order":{"value":null}}},
{"data":{"name":"border"},"mark":{"type":"line","clip":true,"stroke":"#1a1a1a","strokeWidth":1},"encoding":{"detail":{"field":"id"},"order":{"value":null}}},
{"data":{"name":"stations"},"mark":{"type":"point","shape":"M-1,-1L1,1M-1,1L1,-1","size":144,"stroke":"#000000","strokeWidth":0.8,"fill":null,"opacity":1}},
{"data":{"name":"labels"},"mark":{"type":"text","fontSize":17,"color":"#000000"},"encoding":{"text":{"field":"name"}}}
]},
{"width":110,"height":267.4,"title":{"text":"e (μg s⁻¹ km⁻²)","orient":"bottom","anchor":"start","frame":"group","fontSize":17,"fontWeight":"normal","offset":20},
"layer":[
{"data":{"name":"levels"},"mark":{"type":"rect"},"encoding":{"x":{"datum":0,"type":"quantitative","scale":{"domain":[0,110],"nice":false},"axis":null},"x2":{"datum":11},"y":{"field":"hi","type":"ordinal","title":null,"scale":{"type":"point","padding":1.08,"domain":["6.0e+05","3.6e+05","2.2e+05","1.3e+05","7.7e+04","4.6e+04","2.8e+04","1.7e+04","1.0e+04","0.0e+00","-1.0e+04","-1.7e+04","-2.8e+04","-4.6e+04","-7.7e+04","-1.3e+05","-2.2e+05","-3.6e+05","-6.0e+05"]},"axis":{"orient":"right","offset":-110,"domain":false,"ticks":false,"labelFontSize":13.5,"labelPadding":31,"labelColor":"#000000"}},"y2":{"field":"lo"},"color":{"field":"level","type":"quantitative","legend":null,"scale":{"type":"threshold","domain":[-7.5,-6.5,-5.5,-4.5,-3.5,-2.5,-1.5,-0.5,0.5,1.5,2.5,3.5,4.5,5.5,6.5,7.5],"range":["#0018FF","#0040FF","#0066FF","#008EFF","#00B5FF","#27B9F3","#52BCEA","#78C2E0","#CCCCCC","#E1C37A","#E8BE55","#F4BA2C","#FFB700","#FF9505","#FF6E00","#FF4800","#FF1A00"]}}}},
{"data":{"name":"ticks"},"mark":{"type":"point","shape":"M0,0L2,0","size":441,"stroke":"#444444","strokeWidth":0.8,"fill":null,"opacity":1},"encoding":{"x":{"datum":0},"y":{"field":"t","type":"ordinal"}}},
{"data":{"name":"ticks"},"mark":{"type":"point","filled":true,"shape":"M-1,0L1,0L0,-2.49Z","size":121,"color":"#FF0000","opacity":1},"transform":[{"filter":"datum.t==='6.0e+05'"}],"encoding":{"x":{"datum":5.5},"y":{"field":"t","type":"ordinal"}}},
{"data":{"name":"ticks"},"mark":{"type":"point","filled":true,"shape":"M-1,0L1,0L0,2.49Z","size":121,"color":"#0000FF","opacity":1},"transform":[{"filter":"datum.t==='-6.0e+05'"}],"encoding":{"x":{"datum":5.5},"y":{"field":"t","type":"ordinal"}}}
]},
{"width":364.3,"height":267.4,"view":{"stroke":"#808080","strokeWidth":1.5},"title":{"text":"(c)","anchor":"start","frame":"group","fontSize":27,"fontWeight":"normal","offset":1,"dx":-14},
"encoding":{"x":{"field":"lon","type":"quantitative","title":"Longitude (° E)","scale":{"domain":[5.8,10.7],"nice":false,"zero":false},"axis":{"values":[6,7,8,9,10],"grid":false,"domain":false,"tickSize":7,"tickColor":"#555555","labelFontSize":16,"labelPadding":17,"labelColor":"#000000","titleFontSize":17,"titleFontWeight":"normal","titlePadding":2,"titleColor":"#000000"}},"y":{"field":"lat","type":"quantitative","title":"Latitude (° N)","scale":{"domain":[45.75,48.1],"nice":false,"zero":false},"axis":{"values":[46,46.5,47,47.5,48],"format":".1f","grid":false,"domain":false,"tickSize":11,"tickColor":"#aaaaaa","labelAngle":-90,"labelAlign":"center","labelBaseline":"middle","labelFontSize":16,"labelPadding":19,"labelColor":"#000000","titleFontSize":16,"titleFontWeight":"normal","titlePadding":8,"titleColor":"#000000"}}},
"layer":[
{"data":{"name":"cells"},"mark":{"type":"rect","clip":true,"stroke":"#ffffff","strokeWidth":0.6,"strokeOpacity":0.5},"encoding":{"x2":{"field":"lon2"},"y2":{"field":"lat2"},"color":{"field":"c","type":"quantitative","legend":null,"scale":{"type":"threshold","domain":[-7.5,-6.5,-5.5,-4.5,-3.5,-2.5,-1.5,-0.5,0.5,1.5,2.5,3.5,4.5,5.5,6.5,7.5],"range":["#0018FF","#0040FF","#0066FF","#008EFF","#00B5FF","#27B9F3","#52BCEA","#78C2E0","#CCCCCC","#E1C37A","#E8BE55","#F4BA2C","#FFB700","#FF9505","#FF6E00","#FF4800","#FF1A00"]}}}},
{"data":{"name":"lakes"},"mark":{"type":"line","clip":true,"stroke":"#3A3AA8","strokeWidth":0.7,"strokeOpacity":0.8},"encoding":{"detail":{"field":"id"},"order":{"value":null}}},
{"data":{"name":"border"},"mark":{"type":"line","clip":true,"stroke":"#1a1a1a","strokeWidth":1},"encoding":{"detail":{"field":"id"},"order":{"value":null}}},
{"data":{"name":"stations"},"mark":{"type":"point","shape":"M-1,-1L1,1M-1,1L1,-1","size":144,"stroke":"#000000","strokeWidth":0.8,"fill":null,"opacity":1}},
{"data":{"name":"labels"},"mark":{"type":"text","fontSize":17,"color":"#000000"},"encoding":{"text":{"field":"name"}}}
]},
{"width":161.5,"height":267.4,"title":{"text":"e (μg s⁻¹ km⁻²)","orient":"bottom","anchor":"start","frame":"group","fontSize":17,"fontWeight":"normal","offset":20},
"layer":[
{"data":{"name":"levels"},"mark":{"type":"rect"},"encoding":{"x":{"datum":0,"type":"quantitative","scale":{"domain":[0,161.5],"nice":false},"axis":null},"x2":{"datum":11},"y":{"field":"hi","type":"ordinal","title":null,"scale":{"type":"point","padding":1.08,"domain":["6.0e+05","3.6e+05","2.2e+05","1.3e+05","7.7e+04","4.6e+04","2.8e+04","1.7e+04","1.0e+04","0.0e+00","-1.0e+04","-1.7e+04","-2.8e+04","-4.6e+04","-7.7e+04","-1.3e+05","-2.2e+05","-3.6e+05","-6.0e+05"]},"axis":{"orient":"right","offset":-161.5,"domain":false,"ticks":false,"labelFontSize":13.5,"labelPadding":31,"labelColor":"#000000"}},"y2":{"field":"lo"},"color":{"field":"level","type":"quantitative","legend":null,"scale":{"type":"threshold","domain":[-7.5,-6.5,-5.5,-4.5,-3.5,-2.5,-1.5,-0.5,0.5,1.5,2.5,3.5,4.5,5.5,6.5,7.5],"range":["#0018FF","#0040FF","#0066FF","#008EFF","#00B5FF","#27B9F3","#52BCEA","#78C2E0","#CCCCCC","#E1C37A","#E8BE55","#F4BA2C","#FFB700","#FF9505","#FF6E00","#FF4800","#FF1A00"]}}}},
{"data":{"name":"ticks"},"mark":{"type":"point","shape":"M0,0L2,0","size":441,"stroke":"#444444","strokeWidth":0.8,"fill":null,"opacity":1},"encoding":{"x":{"datum":0},"y":{"field":"t","type":"ordinal"}}},
{"data":{"name":"ticks"},"mark":{"type":"point","filled":true,"shape":"M-1,0L1,0L0,-2.49Z","size":121,"color":"#FF0000","opacity":1},"transform":[{"filter":"datum.t==='6.0e+05'"}],"encoding":{"x":{"datum":5.5},"y":{"field":"t","type":"ordinal"}}},
{"data":{"name":"ticks"},"mark":{"type":"point","filled":true,"shape":"M-1,0L1,0L0,2.49Z","size":121,"color":"#0000FF","opacity":1},"transform":[{"filter":"datum.t==='-6.0e+05'"}],"encoding":{"x":{"datum":5.5},"y":{"field":"t","type":"ordinal"}}}
]},
{"width":364.3,"height":267.4,"view":{"stroke":"#808080","strokeWidth":1.5},"title":{"text":"(d)","anchor":"start","frame":"group","fontSize":27,"fontWeight":"normal","offset":1,"dx":-14},
"encoding":{"x":{"field":"lon","type":"quantitative","title":"Longitude (° E)","scale":{"domain":[5.8,10.7],"nice":false,"zero":false},"axis":{"values":[6,7,8,9,10],"grid":false,"domain":false,"tickSize":7,"tickColor":"#555555","labelFontSize":16,"labelPadding":17,"labelColor":"#000000","titleFontSize":17,"titleFontWeight":"normal","titlePadding":2,"titleColor":"#000000"}},"y":{"field":"lat","type":"quantitative","title":"Latitude (° N)","scale":{"domain":[45.75,48.1],"nice":false,"zero":false},"axis":{"values":[46,46.5,47,47.5,48],"format":".1f","grid":false,"domain":false,"tickSize":11,"tickColor":"#aaaaaa","labelAngle":-90,"labelAlign":"center","labelBaseline":"middle","labelFontSize":16,"labelPadding":19,"labelColor":"#000000","titleFontSize":16,"titleFontWeight":"normal","titlePadding":8,"titleColor":"#000000"}}},
"layer":[
{"data":{"name":"cells"},"mark":{"type":"rect","clip":true,"stroke":"#ffffff","strokeWidth":0.6,"strokeOpacity":0.5},"encoding":{"x2":{"field":"lon2"},"y2":{"field":"lat2"},"color":{"field":"d","type":"quantitative","legend":null,"scale":{"type":"threshold","domain":[-7.5,-6.5,-5.5,-4.5,-3.5,-2.5,-1.5,-0.5,0.5,1.5,2.5,3.5,4.5,5.5,6.5,7.5],"range":["#0018FF","#0040FF","#0066FF","#008EFF","#00B5FF","#27B9F3","#52BCEA","#78C2E0","#CCCCCC","#E1C37A","#E8BE55","#F4BA2C","#FFB700","#FF9505","#FF6E00","#FF4800","#FF1A00"]}}}},
{"data":{"name":"lakes"},"mark":{"type":"line","clip":true,"stroke":"#3A3AA8","strokeWidth":0.7,"strokeOpacity":0.8},"encoding":{"detail":{"field":"id"},"order":{"value":null}}},
{"data":{"name":"border"},"mark":{"type":"line","clip":true,"stroke":"#1a1a1a","strokeWidth":1},"encoding":{"detail":{"field":"id"},"order":{"value":null}}},
{"data":{"name":"stations"},"mark":{"type":"point","shape":"M-1,-1L1,1M-1,1L1,-1","size":144,"stroke":"#000000","strokeWidth":0.8,"fill":null,"opacity":1}},
{"data":{"name":"labels"},"mark":{"type":"text","fontSize":17,"color":"#000000"},"encoding":{"text":{"field":"name"}}}
]},
{"width":110,"height":267.4,"title":{"text":"e (μg s⁻¹ km⁻²)","orient":"bottom","anchor":"start","frame":"group","fontSize":17,"fontWeight":"normal","offset":20},
"layer":[
{"data":{"name":"levels"},"mark":{"type":"rect"},"encoding":{"x":{"datum":0,"type":"quantitative","scale":{"domain":[0,110],"nice":false},"axis":null},"x2":{"datum":11},"y":{"field":"hi","type":"ordinal","title":null,"scale":{"type":"point","padding":1.08,"domain":["6.0e+05","3.6e+05","2.2e+05","1.3e+05","7.7e+04","4.6e+04","2.8e+04","1.7e+04","1.0e+04","0.0e+00","-1.0e+04","-1.7e+04","-2.8e+04","-4.6e+04","-7.7e+04","-1.3e+05","-2.2e+05","-3.6e+05","-6.0e+05"]},"axis":{"orient":"right","offset":-110,"domain":false,"ticks":false,"labelFontSize":13.5,"labelPadding":31,"labelColor":"#000000"}},"y2":{"field":"lo"},"color":{"field":"level","type":"quantitative","legend":null,"scale":{"type":"threshold","domain":[-7.5,-6.5,-5.5,-4.5,-3.5,-2.5,-1.5,-0.5,0.5,1.5,2.5,3.5,4.5,5.5,6.5,7.5],"range":["#0018FF","#0040FF","#0066FF","#008EFF","#00B5FF","#27B9F3","#52BCEA","#78C2E0","#CCCCCC","#E1C37A","#E8BE55","#F4BA2C","#FFB700","#FF9505","#FF6E00","#FF4800","#FF1A00"]}}}},
{"data":{"name":"ticks"},"mark":{"type":"point","shape":"M0,0L2,0","size":441,"stroke":"#444444","strokeWidth":0.8,"fill":null,"opacity":1},"encoding":{"x":{"datum":0},"y":{"field":"t","type":"ordinal"}}},
{"data":{"name":"ticks"},"mark":{"type":"point","filled":true,"shape":"M-1,0L1,0L0,-2.49Z","size":121,"color":"#FF0000","opacity":1},"transform":[{"filter":"datum.t==='6.0e+05'"}],"encoding":{"x":{"datum":5.5},"y":{"field":"t","type":"ordinal"}}},
{"data":{"name":"ticks"},"mark":{"type":"point","filled":true,"shape":"M-1,0L1,0L0,2.49Z","size":121,"color":"#0000FF","opacity":1},"transform":[{"filter":"datum.t==='-6.0e+05'"}],"encoding":{"x":{"datum":5.5},"y":{"field":"t","type":"ordinal"}}}
]}
]
}
